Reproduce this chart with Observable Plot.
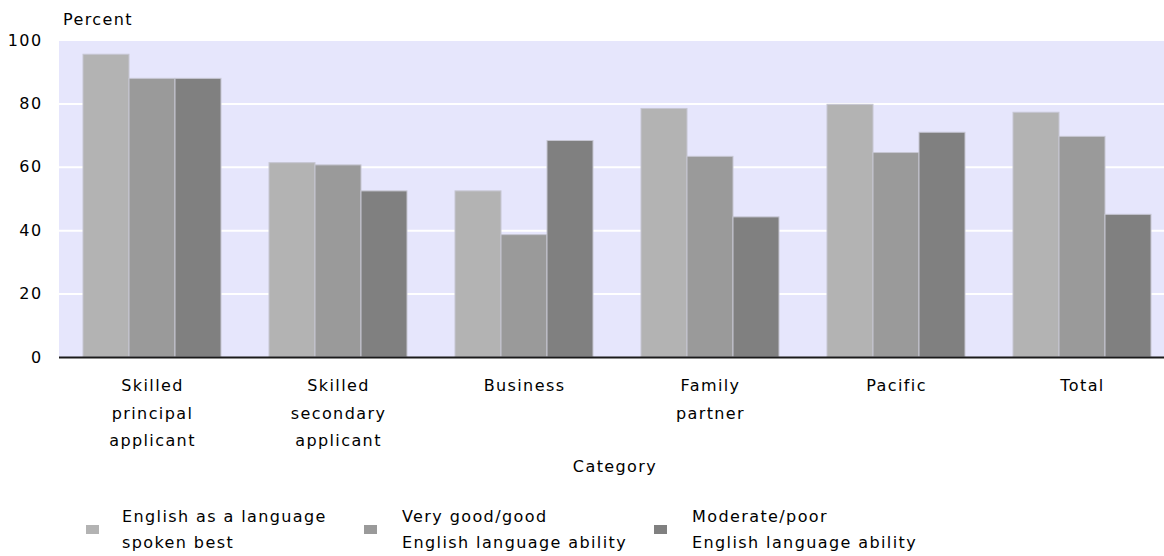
<!DOCTYPE html>
<html>
<head>
<meta charset="utf-8">
<script src="https://cdn.jsdelivr.net/npm/d3@7"></script>
<script src="https://cdn.jsdelivr.net/npm/@observablehq/plot@0.6"></script>
<style>
  html, body { margin: 0; padding: 0; background: #fff; overflow: hidden; width: 1164px; height: 556px; }
  body { position: relative; font-family: "DejaVu Sans", sans-serif; font-size: 16px; letter-spacing: 1.4px; color: #000; }
  .abs { position: absolute; white-space: nowrap; line-height: 16px; }
  .sw { position: absolute; width: 13px; height: 9px; }
  .lg { position: absolute; white-space: nowrap; line-height: 26px; }
</style>
</head>
<body>
<div id="chart"></div>
<script>
// ---- data ----
const categories = ["Skilled principal applicant", "Skilled secondary applicant", "Business", "Family partner", "Pacific", "Total"];
const categoryLabels = ["Skilled\nprincipal\napplicant", "Skilled\nsecondary\napplicant", "Business", "Family\npartner", "Pacific", "Total"];
const series = ["English as a language spoken best", "Very good/good English language ability", "Moderate/poor English language ability"];
const seriesLabels = [["English as a language", "spoken best"], ["Very good/good", "English language ability"], ["Moderate/poor", "English language ability"]];
const englishSpokenBest = [95.5, 61.3, 52.4, 78.4, 79.7, 77.2];
const veryGoodGood = [87.9, 60.6, 38.6, 63.3, 64.5, 69.6];
const moderatePoor = [87.9, 52.4, 68.3, 44.2, 70.9, 45.0];
const yTicks = [0, 20, 40, 60, 80, 100];
const gridTicks = [20, 40, 60, 80];
const colors = ["#b3b3b3", "#9a9a9a", "#808080"];
const yLabel = "Percent";
const xLabel = "Category";

const seriesValues = [englishSpokenBest, veryGoodGood, moderatePoor];
const data = [];
categories.forEach((c, i) => {
  series.forEach((s, j) => data.push({category: c, series: s, value: seriesValues[j][i]}));
});
const labelMap = new Map(categories.map((c, i) => [c, categoryLabels[i]]));

const chart = Plot.plot({
  width: 1175,
  height: 480,
  marginLeft: 59,
  marginRight: 0,
  marginTop: 40,
  marginBottom: 123,
  style: {fontFamily: "DejaVu Sans", fontSize: "16px", letterSpacing: "1.4px", background: "white", color: "#000", maxWidth: "none", overflow: "hidden"},
  fx: {domain: categories, padding: 0, label: null},
  x: {domain: series, paddingInner: 0, paddingOuter: 0.5, axis: null},
  y: {domain: [0, 100], axis: null},
  color: {domain: series, range: colors},
  marks: [
    Plot.frame({fill: "#e6e6fc", stroke: "none", shapeRendering: "crispEdges", insetLeft: -0.5, insetRight: -0.5}),
    Plot.ruleY(gridTicks, {stroke: "white", strokeWidth: 2}),
    Plot.barY(data, {fx: "category", x: "series", y: "value", fill: "series", stroke: "#c6c6d2", strokeWidth: 1}),
    Plot.ruleY([0], {stroke: "#1a1a1a", strokeWidth: 2}),
    Plot.axisY(yTicks, {tickSize: 0, tickPadding: 17, label: null, fontSize: 16}),
    Plot.axisFx({anchor: "bottom", tickSize: 0, tickPadding: 14, tickFormat: d => labelMap.get(d), lineHeight: 1.72, label: null, fontSize: 16})
  ]
});
document.getElementById("chart").appendChild(chart);

// axis titles
const addDiv = (cls, text, left, top, extra) => {
  const d = document.createElement("div");
  d.className = cls;
  d.textContent = text;
  d.style.left = left + "px";
  d.style.top = top + "px";
  if (extra) Object.assign(d.style, extra);
  document.body.appendChild(d);
  return d;
};
addDiv("abs", yLabel, 63, 12);
addDiv("abs", xLabel, 615, 459, {transform: "translateX(-50%)"});

// legend
const swatchLeft = [86, 364, 654];
const textLeft = [122, 402, 692];
series.forEach((s, j) => {
  const sw = document.createElement("div");
  sw.className = "sw";
  sw.style.left = swatchLeft[j] + "px";
  sw.style.top = "525px";
  sw.style.background = colors[j];
  document.body.appendChild(sw);
  const t = addDiv("lg", "", textLeft[j], 504);
  t.innerHTML = seriesLabels[j][0] + "<br>" + seriesLabels[j][1];
});
</script>
</body>
</html>
